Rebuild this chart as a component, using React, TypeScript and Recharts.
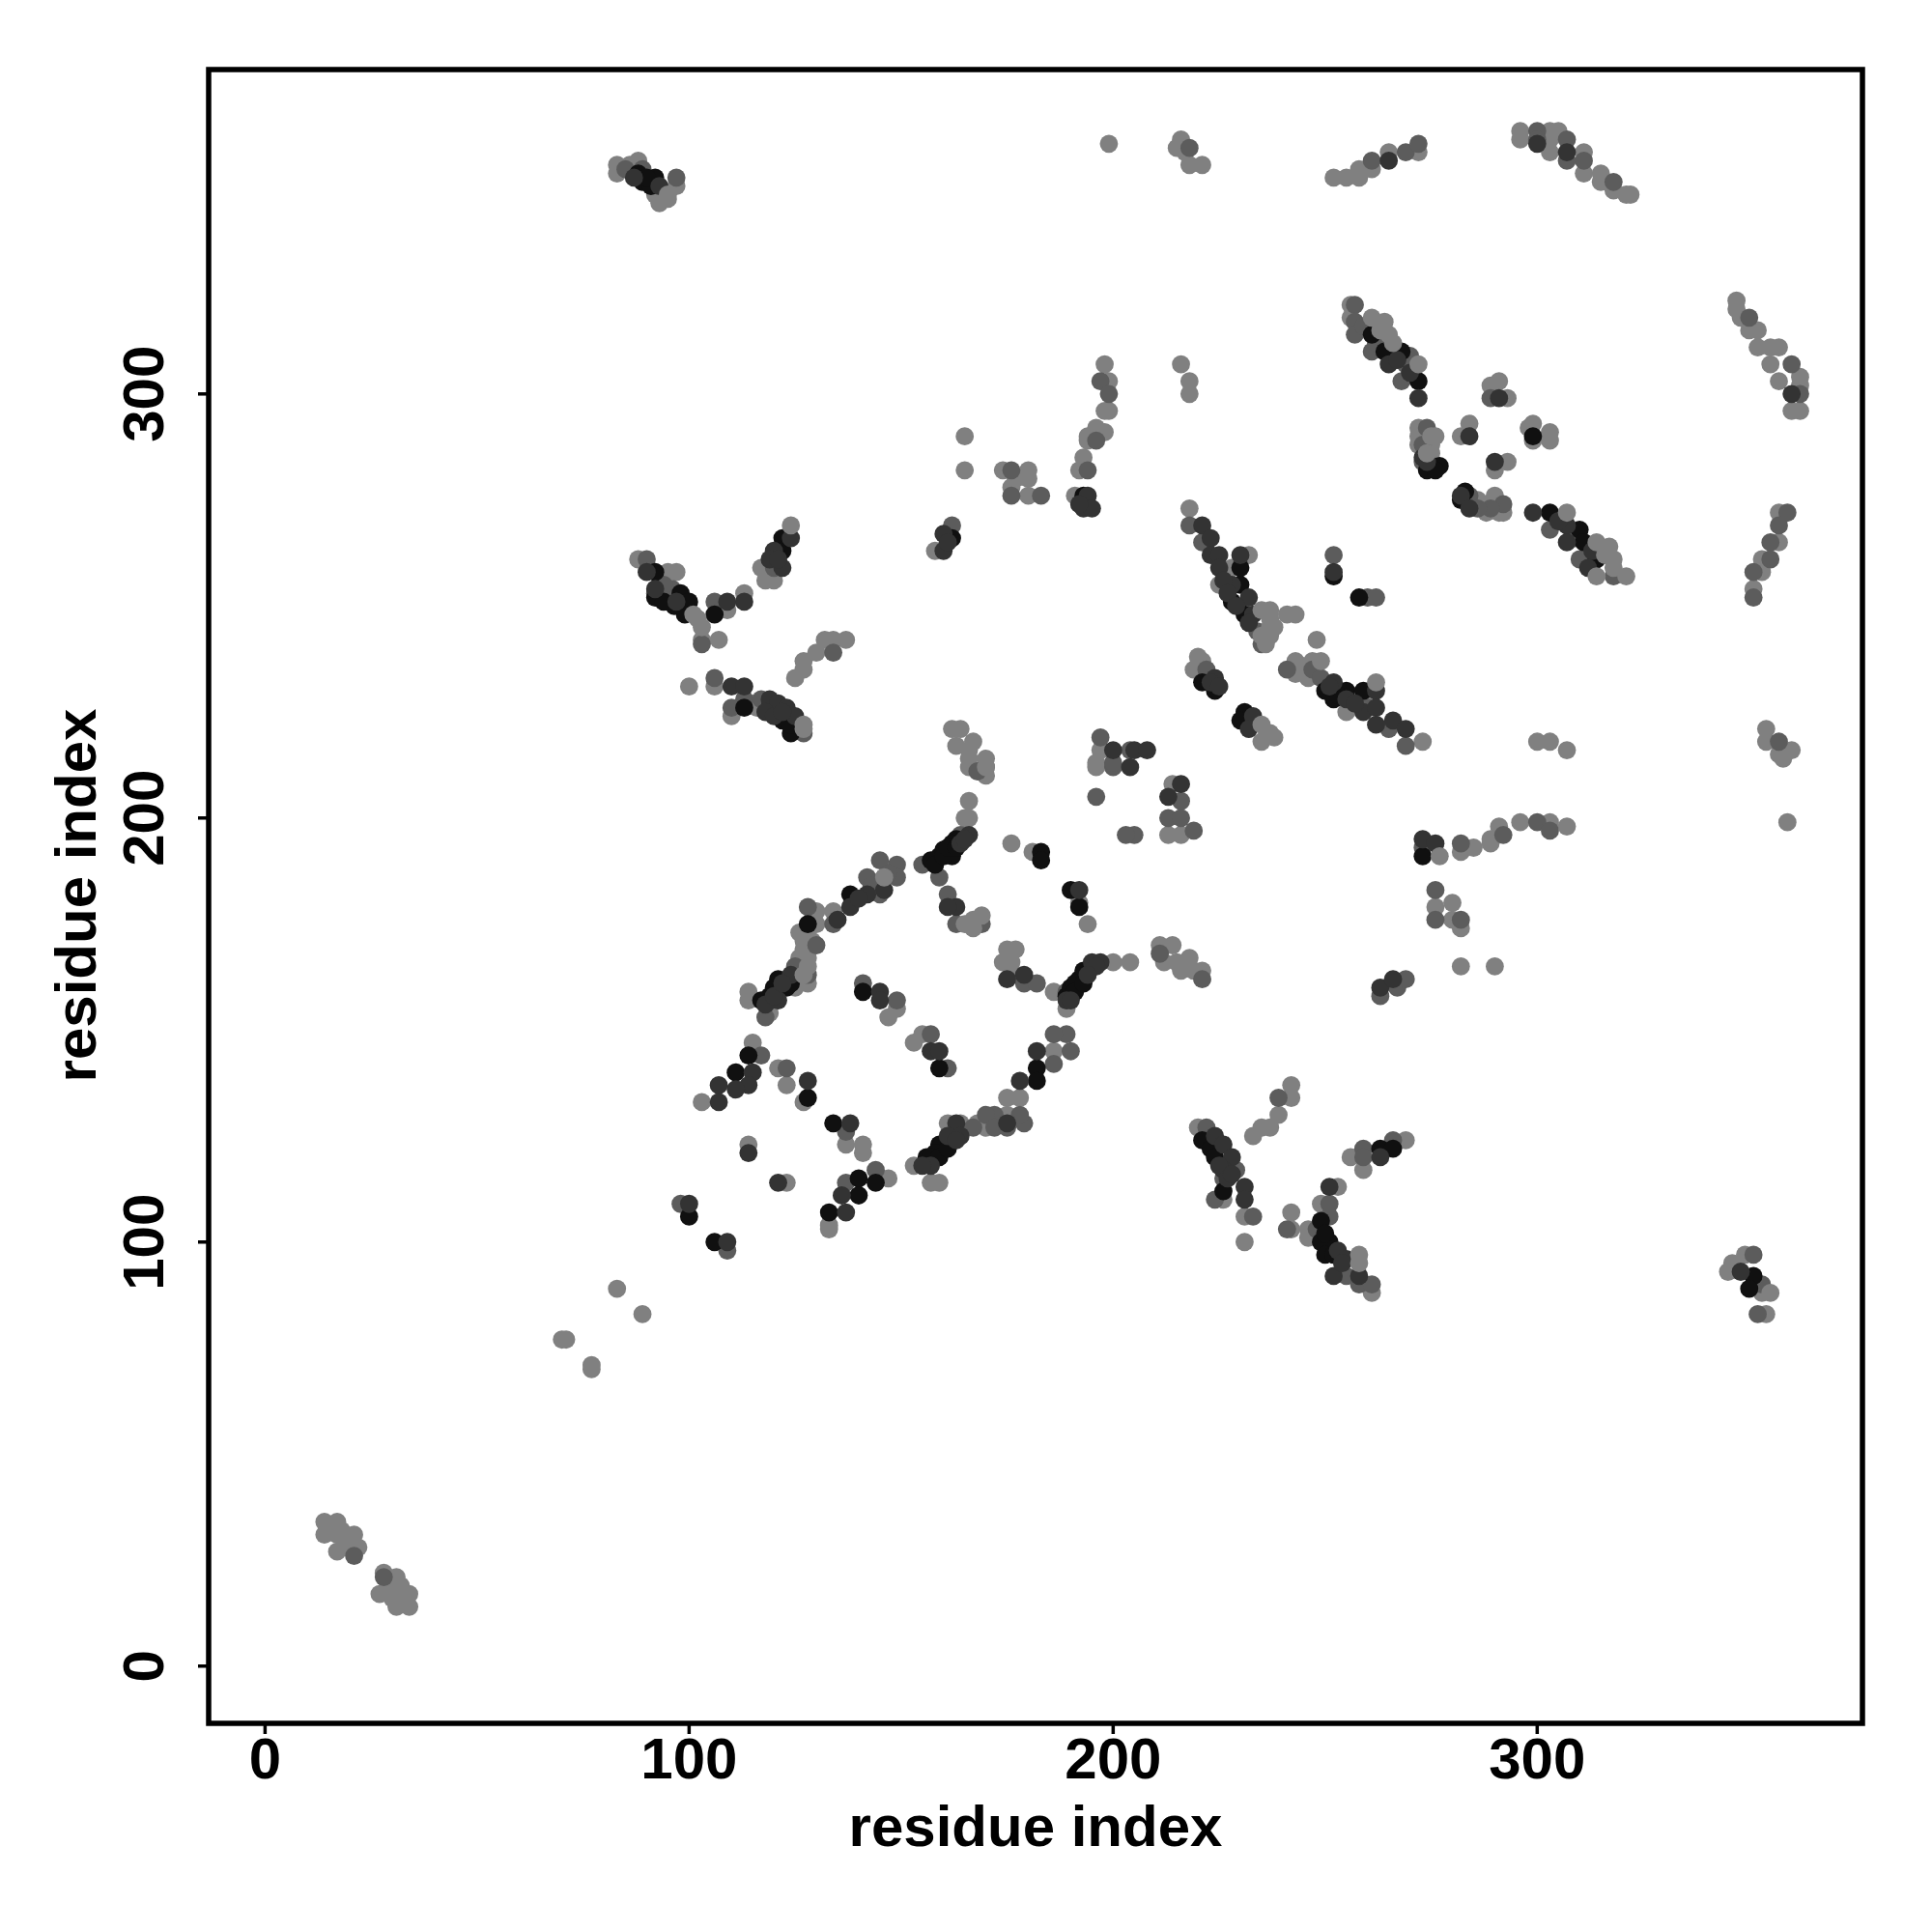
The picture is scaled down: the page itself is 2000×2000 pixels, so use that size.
import React from 'react';
import { ScatterChart, Scatter, XAxis, YAxis, ReferenceArea } from 'recharts';

type P = [number, number];

const xTicks = [0, 100, 200, 300];
const yTicks = [0, 100, 200, 300];
const axisTitle = 'residue index';

const lightBase: P[] = [
  [14,34],[17,34],[14,31],[17,31],[17,27],[21,31],[22,28],[21,27],[28,22],[31,21],[27,17],[31,17],[31,14],[34,17],[34,14],
  [15,33],[18,32],[19,29],[29,19],[32,19],[30,16],[33,15],
  [70,77],[71,77],[77,70],[77,71],[83,89],[89,83],
  [83,354],[83,352],[86,354],[88,355],[87,353],[97,349],[93,345],[92,347],
  [199,359],[216,360],[215,358],[218,354],[221,354],[217,357],
  [198,307],[199,303],[198,296],[199,296],[196,292],[198,291],[194,290],[194,289],[193,285],[192,282],[191,276],
  [216,307],[218,303],[218,300],[165,290],[165,282],
  [174,282],[180,282],[177,280],[180,280],[180,276],[176,278],
  [158,263],[88,261],[97,258],[95,258],[109,249],[113,253],[103,242],[107,242],
  [117,259],[120,256],[118,256],
  [137,242],[134,242],[132,242],[130,239],[127,237],[127,235],[125,233],
  [100,231],[106,231],[110,224],[115,227],[116,226],
  [252,351],[255,351],[258,351],[258,353],[261,353],[265,357],[272,357],
  [296,362],[296,360],[303,362],[305,362],[303,360],[303,357],[311,357],[311,352],[315,352],[315,350],[318,348],[321,347],[322,347],
  [256,321],[256,318],[264,317],[347,322],[347,320],[348,318],[350,315],[352,315],[352,311],[355,311],[357,311],[355,307],[357,303],[362,304],[362,302],[360,296],[362,296],
  [289,302],[291,303],[293,299],[284,293],[282,290],[298,292],[299,293],[299,289],[303,291],[303,289],[293,284],[290,282],
  [272,292],[272,290],[272,288],[275,288],[275,286],[286,275],[290,276],[288,274],[291,272],[288,272],[292,272],
  [357,272],[357,265],[353,261],[353,258],[351,254],
  [218,273],[225,255],[232,262],[228,259],
  [220,238],[219,235],[221,237],
  [241,248],[243,248],[243,237],[243,234],[244,236],[246,233],[247,237],
  [259,228],[255,225],[273,218],[300,218],[303,218],[307,216],[354,221],[354,218],[357,215],[360,216],[358,214],[359,199],
  [162,221],[164,221],[163,217],[167,218],[166,214],[170,214],[170,212],[166,212],[170,210],
  [197,216],[196,212],[196,213],[214,208],[213,196],[216,196],
  [166,204],[166,200],[165,200],[176,194],[181,192],[192,180],[194,175],
  [175,169],[177,169],[174,166],[176,166],[176,164],
  [186,159],[189,155],[200,166],[204,166],
  [211,170],[214,170],[212,166],[215,166],[218,167],[216,164],[221,164],[219,164],
  [146,186],[134,178],[130,178],[130,175],[127,169],[128,167],[126,167],[128,161],[126,162],[114,159],[114,157],[119,154],
  [127,171],[128,172],[126,173],[129,171],[125,160],
  [149,155],[147,153],[153,147],[155,149],
  [186,145],[178,134],[175,134],[175,130],[170,127],[164,128],[161,128],[153,118],[157,114],[159,114],[168,128],
  [115,147],[103,133],[121,141],[123,137],[127,133],[137,123],[141,123],[141,121],[114,123],[123,114],[147,115],[133,104],[133,103],
  [242,137],[242,134],[239,130],[237,127],[235,127],[233,125],
  [220,127],[226,110],[231,106],[231,100],[253,113],[249,109],[242,107],[242,103],[246,103],[246,101],[261,88],
  [256,120],[259,117],[269,124],
  [349,97],[345,93],[346,95],[353,88],[354,83],
  [282,192],[285,193],[289,194],[289,195],[291,198],[296,199],[303,199],[307,198],
  [276,179],[280,180],[280,176],[282,174],[282,165],[290,165],
];

const mid: P[] = [
  [28,21],[21,26],[89,353],[97,351],[218,358],[197,303],[199,300],[196,289],[194,282],
  [176,282],[176,276],[183,276],[162,269],[90,261],[92,253],[96,254],[103,241],[106,251],[94,255],[85,353],
  [120,259],[134,239],[106,233],[110,226],[113,228],[117,228],[127,220],
  [261,355],[269,357],[272,359],[300,362],[300,360],[307,360],[307,355],[311,355],[318,350],
  [257,321],[257,317],[257,314],[261,310],[269,307],[268,303],[259,316],[262,312],[270,309],
  [350,318],[360,307],[362,300],[289,299],[274,292],[273,284],[284,276],[292,274],[289,273],[273,288],[286,273],
  [303,268],[310,261],[318,257],[359,272],[357,269],[355,265],[355,261],[351,258],[351,252],[309,266],
  [252,262],[260,252],[262,252],[218,269],[221,265],[222,235],[235,241],[241,235],[247,235],[249,233],[265,221],[269,217],[234,244],[260,226],
  [357,218],[168,211],[197,219],[204,216],[200,212],[200,213],
  [196,205],[216,204],[213,200],[216,200],[219,197],[205,196],[203,196],
  [164,196],[155,189],[159,186],[161,182],[163,175],[169,175],[179,161],[182,161],[189,159],
  [221,162],[211,168],[149,189],[145,190],[149,186],[142,186],[145,182],[134,175],[128,179],[130,170],[128,163],[118,153],[143,184],[147,187],[125,165],
  [141,161],[149,157],[157,149],[161,141],[189,149],[186,149],[190,145],[186,142],[179,128],[178,130],[172,130],[170,130],[167,127],[172,127],[175,127],
  [117,144],[123,141],[137,126],[144,117],[137,114],[98,109],[109,98],
  [239,134],[222,127],[229,117],[224,110],[233,106],[251,109],[251,106],[241,103],[255,92],[258,90],[261,90],[259,122],[259,120],[266,124],[226,115],[248,103],
  [351,97],[353,90],[352,83],
  [273,193],[282,194],[292,196],[300,199],[303,197],[276,183],[276,176],[282,176],[263,158],[267,160],[269,162],
];

const dark: P[] = [
  [87,351],[93,349],[194,276],[193,273],[195,273],[192,274],[160,267],[160,263],[161,265],
  [90,258],[92,254],[109,251],[113,251],[124,266],[120,263],[122,259],[97,251],[119,261],[121,261],
  [110,231],[113,231],[119,228],[121,227],[123,226],[125,224],[118,225],[120,224],[122,225],
  [265,355],[300,359],[307,357],[265,307],[272,299],[360,300],[291,299],[284,290],[290,284],[273,285],[282,276],[284,273],[267,308],[270,305],[274,284],
  [299,272],[307,269],[307,265],[252,258],[305,270],[313,263],[312,259],
  [221,269],[223,266],[223,262],[225,262],[225,259],[230,262],[228,255],[232,252],[233,248],[226,256],[227,253],[229,250],[232,246],
  [224,233],[223,232],[225,231],[233,224],[232,221],[252,232],[255,228],[262,230],[259,225],[262,226],[262,222],[266,223],[269,221],[251,231],[257,227],
  [205,216],[200,216],[208,216],[204,212],[216,208],[213,205],
  [166,196],[164,194],[163,179],[161,179],[192,183],[175,162],[179,163],[189,157],[195,166],[197,166],[124,163],[121,157],[165,195],
  [142,182],[138,179],[145,159],[145,157],[157,145],[159,145],[182,145],[178,138],[175,128],[163,128],[164,125],[161,125],[157,118],[135,176],[140,181],[146,183],[118,156],[120,158],[122,161],
  [115,140],[114,137],[111,136],[107,137],[107,133],[128,138],[138,128],[114,121],[121,114],[136,111],[137,107],[100,109],[109,100],[155,118],[163,124],[190,157],[196,165],[194,163],
  [224,125],[226,123],[228,120],[226,117],[231,113],[231,110],[251,113],[253,98],[255,96],[252,92],[258,92],[263,120],[225,118],[227,115],[228,116],[254,95],
  [348,93],[263,160],[266,162],[273,195],[276,194],
];

const black: P[] = [
  [92,351],[89,350],[91,349],[162,266],[92,258],[92,252],[98,253],[96.5,250],[100,251],[99,248],[106,248],[94,251],[88,352],[90,351],
  [122,266],[122,263],[113,226],[119,226],[122,223],[124,220],[124,222],
  [261,314],[264,310],[268,310],[272,303],[275,283],[277,283],[274,282],[276,282],[283,277],[282,275],
  [303,272],[310,268],[311,265],[314,261],[299,290],[252,257],[258,252],[193,276],
  [230,259],[230,255],[228,251],[231,248],[224,230],[221,232],[231,225],[230,223],
  [250,230],[252,228],[255,230],[259,230],[253,229],
  [163,195],[162,194],[160,192.5],[159,191],[158,190],[157,190],[162,191],[183,192],[183,190],[190,183],[192,179],[158,189],[160,191],[161,193],[163,193],
  [189,158],[190,160],[192,162],[193,164],[191,161],[191,159],[193,161],
  [138,182],[128,175],[121,162],[123,160],[120,160],[119,158],[117,157],[141,159],[159,141],[182,141],[182,138],[124,161],
  [160,122],[159,123],[158,121],[156,120],[157,120],[159,120],[161,122],[114,144],[111,140],[128,134],[134,128],[144,114],[140,115],[140,111],[133,107],[100,106],[106,100],
  [221,124],[223,122],[224,120],[226,112],[249,105],[249,100],[251,100],[250,97],[250,102],[252,97],[263,122],[266,122],[351,92],[350,89],[273,191],
];

const lightTop: P[] = [
  [95,347],[95,346],[101,248],[103,245],[102,247],[124,269],[127,222],[127,221],[127,163],
  [261,318],[265,314],[272,307],[263,315],[266,312],[307,272],[314,265],[317,264],[318,261],[318,259],[314,257],[321,257],[316,262],
  [262,232],[248,242],[249,237],[235,222],[235,218],[237,220],[238,219],
  [235,249],[237,249],[237,245],[238,245],[237,243],[235,243],[236,241],[237,247],
  [274,286],[275,290],[276,290],[277,191],[258,97],[258,95],[355,88],[167,176],[169,177],[167,174],[165,175],
  [166,216],[170,212],[146,186],[128,165],
];

const layers: { name: string; data: P[]; fill: string }[] = [
  { name: 'light', data: lightBase, fill: '#808080' },
  { name: 'mid', data: mid, fill: '#5c5c5c' },
  { name: 'black', data: black, fill: '#101010' },
  { name: 'dark', data: dark, fill: '#333333' },
  { name: 'lightTop', data: lightTop, fill: '#808080' },
];

const FONT = '"Liberation Sans", Arial, sans-serif';

const XTick = (p: any) => (
  <text x={p.x} y={p.y + 44} textAnchor="middle" fontFamily={FONT} fontWeight="bold" fontSize={60} fill="#000">
    {p.payload.value}
  </text>
);
const YTick = (p: any) => (
  <text
    transform={`translate(${p.x - 34},${p.y}) rotate(-90)`}
    textAnchor="middle"
    fontFamily={FONT}
    fontWeight="bold"
    fontSize={60}
    fill="#000"
  >
    {p.payload.value}
  </text>
);

const XTitle = () => (
  <text x={1072} y={1911} textAnchor="middle" fontFamily={FONT} fontWeight="bold" fontSize={60} fill="#000">
    {axisTitle}
  </text>
);
const YTitle = () => (
  <text
    transform="translate(99,927) rotate(-90)"
    textAnchor="middle"
    fontFamily={FONT}
    fontWeight="bold"
    fontSize={60}
    fill="#000"
  >
    {axisTitle}
  </text>
);

const dot = (fill: string) => (p: any) => <circle cx={p.cx} cy={p.cy} r={9.4} fill={fill} />;

export default function App() {
  return (
    <div style={{ position: 'absolute', left: 0, top: 0, width: 2000, height: 2000, background: '#fff' }}>
      <ScatterChart width={2000} height={2000} margin={{ left: 0, top: 72, right: 72, bottom: 0 }}>
        <XAxis
          type="number"
          dataKey="x"
          domain={[-13.3, 376.7]}
          ticks={xTicks}
          height={216}
          allowDataOverflow
          axisLine={false}
          tickLine={{ stroke: '#000', strokeWidth: 3.5 }}
          tickSize={11}
          tick={XTick}
          label={XTitle}
        />
        <YAxis
          type="number"
          dataKey="y"
          domain={[-13.5, 376.5]}
          ticks={yTicks}
          width={216}
          allowDataOverflow
          axisLine={false}
          tickLine={{ stroke: '#000', strokeWidth: 3.5 }}
          tickSize={11}
          tick={YTick}
          label={YTitle}
        />
        {layers.map((l) => (
          <Scatter
            key={l.name}
            name={l.name}
            data={l.data.map(([x, y]) => ({ x, y }))}
            shape={dot(l.fill)}
            isAnimationActive={false}
          />
        ))}
        <ReferenceArea
          x1={-13.3}
          x2={376.7}
          y1={-13.5}
          y2={376.5}
          fill="none"
          stroke="#000"
          strokeWidth={5.5}
          ifOverflow="visible"
        />
      </ScatterChart>
    </div>
  );
}
